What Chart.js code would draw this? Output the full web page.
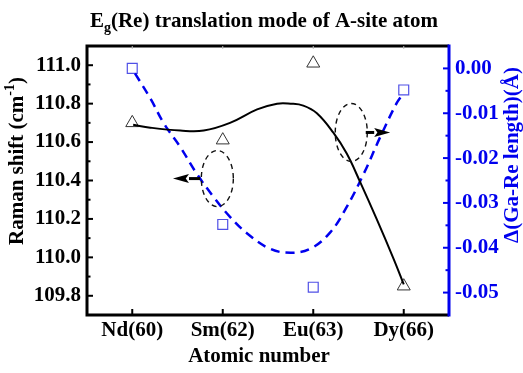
<!DOCTYPE html>
<html>
<head>
<meta charset="utf-8">
<script src="https://cdn.jsdelivr.net/npm/chart.js@4/dist/chart.umd.min.js"></script>
<style>
html, body { margin: 0; padding: 0; background: #fff; }
#wrap { width: 523px; height: 373px; }
</style>
</head>
<body>
<div id="wrap"><canvas id="ramanChart" width="523" height="373"></canvas></div>
<script>
// categories (A-site atom) and their positions on the x axis
const ELEMENTS = ['Nd(60)', 'Sm(62)', 'Eu(63)', 'Dy(66)'];
const ELEMENT_POS = [0, 1, 2, 3];

// measured points
const RAMAN_SHIFT = [110.70, 110.61, 111.01, 109.85];      // cm-1, left axis
const GA_RE_DELTA = [0.0000, -0.0348, -0.0488, -0.0048];   // Angstrom, right axis

// smooth fit curves
const RAMAN_FIT_X = [0.01, 0.20, 0.53, 0.79, 1.08, 1.38, 1.60, 1.75, 1.89, 2.04, 2.22, 2.37, 2.52, 2.70, 2.89, 3.00];
const RAMAN_FIT_Y = [110.69, 110.675, 110.66, 110.66, 110.70, 110.77, 110.80, 110.80, 110.79, 110.75, 110.65, 110.54, 110.39, 110.20, 109.99, 109.86];
const DELTA_FIT_X = [0.03, 0.20, 0.35, 0.53, 0.71, 0.90, 1.08, 1.27, 1.52, 1.75, 1.97, 2.19, 2.37, 2.56, 2.74, 2.92, 2.98];
const DELTA_FIT_Y = [-0.0011, -0.0067, -0.0123, -0.0175, -0.0234, -0.0287, -0.0331, -0.0368, -0.0402, -0.0411, -0.0402, -0.0365, -0.0309, -0.0234, -0.0153, -0.0078, -0.0060];

// tick labels
const RAMAN_TICKS = [109.8, 110.0, 110.2, 110.4, 110.6, 110.8, 111.0];
const DELTA_TICKS = [-0.05, -0.04, -0.03, -0.02, -0.01, 0.00];

const FONT = 'Liberation Serif';
const FSIZE = 21;
const BLUE = '#0000ee';

function pts(xs, ys) {
    return xs.map((x, i) => ({ x: x, y: ys[i] }));
}

// titles, frame, inward ticks, ellipses and arrows
const decorations = {
    id: 'decorations',
    afterDraw(chart) {
        const ctx = chart.ctx;
        const a = chart.chartArea;
        const sx = chart.scales.x, sy = chart.scales.y, sy1 = chart.scales.y1;
        ctx.save();

        // dashed ellipses and arrows (left-axis units)
        const ellipses = [
            { x: 0.94, y: 110.41, rx: 0.177, ry: 0.146 },
            { x: 2.42, y: 110.65, rx: 0.177, ry: 0.151 }
        ];
        ctx.strokeStyle = '#111';
        ctx.lineWidth = 1.4;
        ctx.setLineDash([5, 4]);
        ellipses.forEach(e => {
            const cx = sx.getPixelForValue(e.x), cy = sy.getPixelForValue(e.y);
            const rx = sx.getPixelForValue(e.x + e.rx) - cx;
            const ry = cy - sy.getPixelForValue(e.y + e.ry);
            ctx.beginPath();
            ctx.ellipse(cx, cy, rx, ry, 0, 0, Math.PI * 2);
            ctx.stroke();
        });
        ctx.setLineDash([]);

        const arrows = [
            { from: 0.75, to: 0.45, y: 110.41 },
            { from: 2.58, to: 2.85, y: 110.65 }
        ];
        ctx.fillStyle = '#000';
        ctx.strokeStyle = '#000';
        arrows.forEach(ar => {
            const x0 = sx.getPixelForValue(ar.from), x1 = sx.getPixelForValue(ar.to);
            const y = sy.getPixelForValue(ar.y);
            const dir = Math.sign(x1 - x0);
            const headLen = 16;
            ctx.lineWidth = 3;
            ctx.beginPath();
            ctx.moveTo(x0, y);
            ctx.lineTo(x1 - dir * headLen, y);
            ctx.stroke();
            ctx.beginPath();
            ctx.moveTo(x1, y);
            ctx.lineTo(x1 - dir * headLen, y - 4.5);
            ctx.lineTo(x1 - dir * headLen * 0.8, y);
            ctx.lineTo(x1 - dir * headLen, y + 4.5);
            ctx.closePath();
            ctx.fill();
        });

        // frame
        ctx.lineWidth = 3;
        ctx.strokeStyle = '#000';
        ctx.beginPath();
        ctx.moveTo(a.right, a.top);
        ctx.lineTo(a.left, a.top);
        ctx.lineTo(a.left, a.bottom);
        ctx.lineTo(a.right, a.bottom);
        ctx.stroke();
        ctx.strokeStyle = BLUE;
        ctx.beginPath();
        ctx.moveTo(a.right, a.top - 1.5);
        ctx.lineTo(a.right, a.bottom + 1.5);
        ctx.stroke();

        // inward ticks
        ctx.lineWidth = 2;
        ctx.strokeStyle = '#000';
        for (let i = 0; i <= 12; i++) {
            const v = 109.8 + i * 0.1;
            const y = sy.getPixelForValue(v);
            const len = i % 2 === 0 ? 6 : 3.5;
            ctx.beginPath();
            ctx.moveTo(a.left, y);
            ctx.lineTo(a.left + len, y);
            ctx.stroke();
        }
        ELEMENT_POS.forEach(p => {
            const x = sx.getPixelForValue(p);
            ctx.beginPath();
            ctx.moveTo(x, a.bottom);
            ctx.lineTo(x, a.bottom - 6);
            ctx.stroke();
        });
        ctx.strokeStyle = '#bbb';
        ctx.lineWidth = 1;
        ELEMENT_POS.forEach(p => {
            const x = sx.getPixelForValue(p);
            ctx.beginPath();
            ctx.moveTo(x, a.top);
            ctx.lineTo(x, a.top + 3);
            ctx.stroke();
        });
        ctx.strokeStyle = BLUE;
        ctx.lineWidth = 2;
        for (let i = 0; i <= 10; i++) {
            const v = -0.05 + i * 0.005;
            const y = sy1.getPixelForValue(v);
            const len = i % 2 === 0 ? 6 : 3.5;
            ctx.beginPath();
            ctx.moveTo(a.right, y);
            ctx.lineTo(a.right - len, y);
            ctx.stroke();
        }

        // chart title with subscript
        ctx.fillStyle = '#000';
        ctx.textBaseline = 'alphabetic';
        ctx.textAlign = 'left';
        const big = 'bold ' + FSIZE + 'px ' + FONT, small = 'bold 14px ' + FONT;
        const t1 = 'E', t2 = 'g', t3 = '(Re) translation mode of A-site atom';
        ctx.font = big;
        const w1 = ctx.measureText(t1).width, w3 = ctx.measureText(t3).width;
        ctx.font = small;
        const w2 = ctx.measureText(t2).width;
        let tx = 264 - (w1 + w2 + w3) / 2;
        ctx.font = big;
        ctx.fillText(t1, tx, 27);
        ctx.font = small;
        ctx.fillText(t2, tx + w1, 32);
        ctx.font = big;
        ctx.fillText(t3, tx + w1 + w2, 27);

        // x title
        ctx.textAlign = 'center';
        ctx.fillText('Atomic number', 259, 362);

        // left title with superscript
        ctx.save();
        ctx.translate(23, 161);
        ctx.rotate(-Math.PI / 2);
        ctx.textAlign = 'left';
        const l1 = 'Raman shift (cm', l2 = '-1', l3 = ')';
        ctx.font = big;
        const lw1 = ctx.measureText(l1).width, lw3 = ctx.measureText(l3).width;
        ctx.font = small;
        const lw2 = ctx.measureText(l2).width;
        let lx = -(lw1 + lw2 + lw3) / 2;
        ctx.font = big;
        ctx.fillText(l1, lx, 0);
        ctx.font = small;
        ctx.fillText(l2, lx + lw1, -9);
        ctx.font = big;
        ctx.fillText(l3, lx + lw1 + lw2, 0);
        ctx.restore();

        // right title
        ctx.save();
        ctx.translate(518, 155);
        ctx.rotate(-Math.PI / 2);
        ctx.fillStyle = BLUE;
        ctx.textAlign = 'center';
        ctx.font = big;
        ctx.fillText('\u0394(Ga-Re length)(\u00C5)', 0, 0);
        ctx.restore();

        ctx.restore();
    }
};

const ctx = document.getElementById('ramanChart');

new Chart(ctx, {
    type: 'scatter',
    data: {
        datasets: [
            {
                label: 'Raman fit',
                type: 'line',
                data: pts(RAMAN_FIT_X, RAMAN_FIT_Y),
                yAxisID: 'y',
                borderColor: '#000',
                borderWidth: 2,
                pointRadius: 0,
                tension: 0.4,
                fill: false
            },
            {
                label: 'Delta fit',
                type: 'line',
                data: pts(DELTA_FIT_X, DELTA_FIT_Y),
                yAxisID: 'y1',
                borderColor: BLUE,
                borderWidth: 2.5,
                borderDash: [9, 6],
                pointRadius: 0,
                tension: 0.4,
                fill: false
            },
            {
                label: 'Raman shift',
                data: pts(ELEMENT_POS, RAMAN_SHIFT),
                yAxisID: 'y',
                pointStyle: 'triangle',
                pointRadius: 7.5,
                borderColor: '#333',
                backgroundColor: 'rgba(255,255,255,0)',
                borderWidth: 1
            },
            {
                label: 'Ga-Re length',
                data: pts(ELEMENT_POS, GA_RE_DELTA),
                yAxisID: 'y1',
                pointStyle: 'rect',
                pointRadius: 7,
                borderColor: '#5050e6',
                backgroundColor: 'rgba(255,255,255,0)',
                borderWidth: 1.2
            }
        ]
    },
    options: {
        responsive: false,
        animation: false,
        layout: { padding: { top: 46, left: 0, right: 0, bottom: 0 } },
        plugins: {
            legend: { display: false },
            title: { display: false },
            tooltip: { enabled: false }
        },
        scales: {
            x: {
                type: 'linear',
                min: -0.5,
                max: 3.5,
                grid: { display: false, drawTicks: false },
                border: { display: false },
                afterBuildTicks: s => { s.ticks = ELEMENT_POS.map(v => ({ value: v })); },
                ticks: {
                    callback: v => ELEMENTS[v],
                    font: { family: FONT, size: FSIZE, weight: 'bold' },
                    color: '#000',
                    padding: 3,
                    maxRotation: 0,
                    autoSkip: false
                },
                afterFit: s => { s.height = 58; }
            },
            y: {
                position: 'left',
                min: 109.7,
                max: 111.1,
                grid: { display: false, drawTicks: false },
                border: { display: false },
                afterBuildTicks: s => { s.ticks = RAMAN_TICKS.map(v => ({ value: v })); },
                ticks: {
                    callback: v => v.toFixed(1),
                    font: { family: FONT, size: FSIZE, weight: 'bold' },
                    color: '#000',
                    padding: 6
                },
                afterFit: s => { s.width = 87; }
            },
            y1: {
                position: 'right',
                min: -0.055,
                max: 0.005,
                grid: { display: false, drawTicks: false },
                border: { display: false },
                afterBuildTicks: s => { s.ticks = DELTA_TICKS.map(v => ({ value: v })); },
                ticks: {
                    callback: v => (Math.abs(v) < 1e-9 ? 0 : v).toFixed(2),
                    font: { family: FONT, size: FSIZE, weight: 'bold' },
                    color: BLUE,
                    padding: 6
                },
                afterFit: s => { s.width = 74; }
            }
        }
    },
    plugins: [decorations]
});
</script>
</body>
</html>
